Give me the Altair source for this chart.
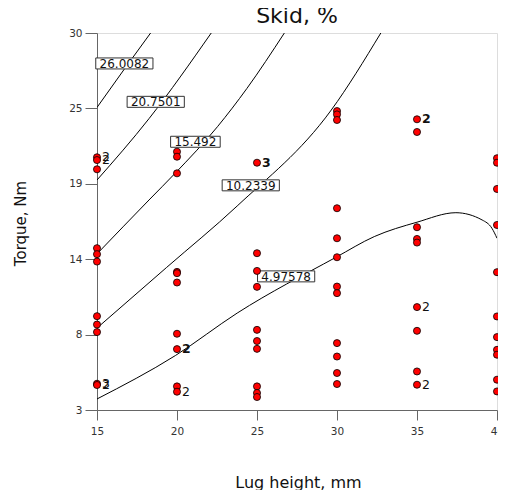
import altair as alt
import pandas as pd

# ---------------- data ----------------
lug_heights = [15, 20, 25, 30, 35, 40]
torque_15 = [21.1, 20.9, 20.24, 14.59, 14.16, 13.63, 9.72, 9.12, 8.58, 4.88, 4.79]
torque_20 = [21.5, 21.14, 19.95, 12.89, 12.8, 12.13, 8.46, 7.36, 4.69, 4.31]
torque_25 = [20.71, 14.23, 12.96, 11.82, 8.74, 7.94, 7.38, 4.69, 4.22, 3.93]
torque_30 = [24.41, 24.17, 23.77, 17.45, 15.30, 13.94, 11.84, 11.37, 7.79, 6.83, 5.65, 4.86]
torque_35 = [23.82, 22.91, 16.09, 15.25, 14.99, 10.37, 8.67, 5.76, 4.81]
torque_40 = [21.03, 20.71, 18.83, 16.25, 12.87, 9.70, 8.22, 7.31, 6.96, 5.17, 4.33]

contour_levels = ["26.0082", "20.7501", "15.492", "10.2339", "4.97578"]
c1_x = [15.0, 16.7, 18.35]
c1_y = [24.67, 27.4, 30.0]
c2_x = [15.0, 18.26, 22.14]
c2_y = [19.47, 23.88, 30.0]
c3_x = [15.0, 18.25, 19.88, 22.53, 24.37, 26.71]
c3_y = [14.18, 18.04, 19.95, 23.29, 26.03, 30.0]
c4_x = [15.0, 19.35, 23.76, 29.64, 32.74]
c4_y = [8.87, 13.21, 17.61, 24.48, 30.0]
c5_x = [15.0, 19.9, 23.76, 29.94, 32.33, 35.0, 37.43, 39.07, 39.68, 40.0]
c5_y = [3.79, 6.9, 9.94, 13.94, 15.42, 16.45, 17.13, 16.61, 16.02, 15.3]

label_x = [16.71, 18.67, 21.15, 24.61, 26.82]
label_y = [27.82, 25.07, 22.21, 19.09, 12.57]

rep_x = [15, 15, 15, 15, 20, 35, 35]
rep_y = [21.1, 20.9, 4.88, 4.79, 4.31, 10.37, 4.81]
rep_text = ["2", "2", "3", "2", "2", "2", "2"]
rep_bold_x = [20, 25, 35]
rep_bold_y = [7.36, 20.71, 23.82]
rep_bold_text = ["2", "3", "2"]

y_ticks = [3, 8.4, 13.8, 19.2, 24.6, 30]

# ---------------- tables ----------------
pts = []
for xv, col in zip(lug_heights, [torque_15, torque_20, torque_25, torque_30, torque_35, torque_40]):
    for yv in col:
        pts.append({"x": xv, "y": yv})
points_df = pd.DataFrame(pts)

rows = []
for lev, xs, ys in zip(contour_levels, [c1_x, c2_x, c3_x, c4_x, c5_x], [c1_y, c2_y, c3_y, c4_y, c5_y]):
    for i, (a, b) in enumerate(zip(xs, ys)):
        rows.append({"level": lev, "x": a, "y": b, "i": i})
lines_df = pd.DataFrame(rows)

S = 60.0  # symbol side for box shapes (px)
def box_path(text):
    w = len(text) * 7.6 + 4
    h = 11.0
    hx, hy = w / S, h / S
    return f"M{-hx:.4f},{-hy:.4f}L{hx:.4f},{-hy:.4f}L{hx:.4f},{hy:.4f}L{-hx:.4f},{hy:.4f}Z"

labels_df = pd.DataFrame({"text": contour_levels, "x": label_x, "y": label_y,
                          "path": [box_path(t) for t in contour_levels]})
reps_df = pd.DataFrame({"x": rep_x, "y": rep_y, "t": rep_text})
reps_bold_df = pd.DataFrame({"x": rep_bold_x, "y": rep_bold_y, "t": rep_bold_text})

FONT = "DejaVu Sans"
xscale = alt.Scale(domain=[15, 40], nice=False, zero=False)
yscale = alt.Scale(domain=[3, 30], nice=False, zero=False)

xaxis = alt.Axis(values=lug_heights, title="Lug height, mm", tickSize=10, labelPadding=6,
                 labelFontSize=10.5, labelFont=FONT, labelColor="#333", domainColor="#666",
                 tickColor="#666", grid=False, titleFontSize=16, titleFont=FONT,
                 titleFontWeight="normal", titleColor="#111", titleBaseline="alphabetic",
                 titleY=77, titleX=201, labelFlush=False, labelOverlap=False)
yaxis = alt.Axis(values=y_ticks, labelExpr="format(datum.value, '.0f')", title="Torque, Nm",
                 tickSize=12, labelPadding=3, labelFontSize=10.5, labelFont=FONT,
                 labelColor="#333", domainColor="#666", tickColor="#666", grid=False,
                 titleFontSize=15, titleFont=FONT, titleFontWeight="normal", titleColor="#111",
                 titleBaseline="alphabetic", titleX=-72, titleY=190, labelFlush=False,
                 labelOverlap=False)

X = alt.X("x:Q", scale=xscale, axis=xaxis)
Y = alt.Y("y:Q", scale=yscale, axis=yaxis)

lines = alt.Chart(lines_df).mark_line(color="black", strokeWidth=1, interpolate="monotone",
                                      clip=True).encode(
    x=X, y=Y, detail="level:N", order="i:Q")

boxes = alt.Chart(labels_df).mark_point(filled=True, fill="white", stroke="#333",
                                        strokeWidth=1, opacity=1, size=S * S).encode(
    x="x:Q", y="y:Q", shape=alt.Shape("path:N", scale=None))

ltext = alt.Chart(labels_df).mark_text(font=FONT, fontSize=12, color="#111",
                                       align="center", baseline="middle", dy=0.5).encode(
    x="x:Q", y="y:Q", text="text:N")

points = alt.Chart(points_df).mark_point(filled=True, fill="#ff0000", stroke="black",
                                         strokeWidth=0.8, opacity=1, size=50,
                                         shape="circle").encode(x="x:Q", y="y:Q")

rtext = alt.Chart(reps_df).mark_text(font=FONT, fontSize=12.5, color="#111", align="left",
                                     baseline="middle", dx=5).encode(
    x="x:Q", y="y:Q", text="t:N")
rtext_b = alt.Chart(reps_bold_df).mark_text(font=FONT, fontSize=12.5, fontWeight="bold",
                                            color="#111", align="left", baseline="middle",
                                            dx=5).encode(x="x:Q", y="y:Q", text="t:N")

chart = alt.layer(lines, boxes, ltext, points, rtext, rtext_b).properties(
    width=400, height=377,
    title=alt.TitleParams("Skid, %", font=FONT, fontSize=22, fontWeight="normal",
                          anchor="middle", frame="group", offset=0, color="#111"),
    autosize=alt.AutoSizeParams(type="none"),
    padding={"left": 89, "top": 25, "right": 1, "bottom": 80},
).configure_view(stroke="#555", strokeWidth=1).configure(background="white")

chart.save("out.html", embed_options={"renderer": "svg", "actions": False})
